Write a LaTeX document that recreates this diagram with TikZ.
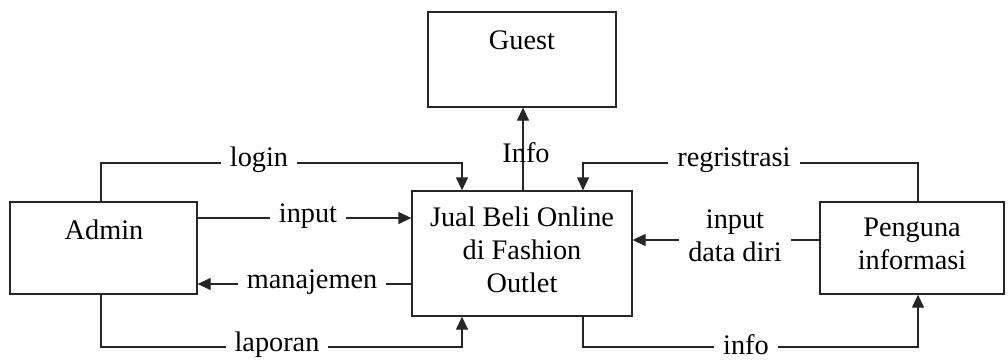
\documentclass[tikz,border=0pt]{standalone}
\usepackage{fontspec}
\setmainfont{Liberation Serif}
\usetikzlibrary{arrows.meta}
\begin{document}
\begin{tikzpicture}[x=1pt,y=-1pt,
  every node/.style={font=\fontsize{28.3}{33}\selectfont, inner sep=0pt},
  box/.style={draw=black!85, line width=1.3pt, rectangle},
  conn/.style={draw=black!85, line width=1.3pt},
  arr/.style={conn, -{Triangle[length=13pt,width=12pt]}},
  lbl/.style={fill=white, inner xsep=9pt, inner ysep=2pt, align=center}]
\useasboundingbox (0,0) rectangle (1008,361);
\fill[white] (0,0) rectangle (1008,361);
% boxes
\node[box, minimum width=187pt, minimum height=92pt] (admin) at (103.5,248) {};
\node[box, minimum width=220pt, minimum height=125pt] (center) at (522,253.5) {};
\node[box, minimum width=188pt, minimum height=95pt] (guest) at (522,59.5) {};
\node[box, minimum width=184pt, minimum height=92pt] (peng) at (912,248) {};
% box texts
\node (tadmin) at (104,230) {Admin};
\node (tguest) at (522,40) {Guest};
\node[align=center] (tcenter) at (522,250) {Jual Beli Online\\di Fashion\\Outlet};
\node[align=center] (tpeng) at (912,244) {Penguna\\informasi};
% corner coordinates
\coordinate (c1) at (101,163);
\coordinate (c2) at (462,163);
\coordinate (c3) at (101,347);
\coordinate (c4) at (462,347);
\coordinate (c5) at (918,163);
\coordinate (c6) at (583,163);
\coordinate (c7) at (583,347);
\coordinate (c8) at (918,347);
\coordinate (yin) at (0,218);
\coordinate (yman) at (0,284);
\coordinate (ydd) at (0,240);
\coordinate (xg) at (523,0);
% connectors
\draw[arr] (admin.north -| c1) -- (c1) -- (c2) -- (center.north -| c2);
\draw[arr] (admin.east |- yin) -- (center.west |- yin);
\draw[arr] (center.west |- yman) -- (admin.east |- yman);
\draw[arr] (admin.south -| c3) -- (c3) -- (c4) -- (center.south -| c4);
\draw[arr] (center.north -| xg) -- (guest.south -| xg);
\draw[arr] (peng.north -| c5) -- (c5) -- (c6) -- (center.north -| c6);
\draw[arr] (peng.west |- ydd) -- (center.east |- ydd);
\draw[arr] (center.south -| c7) -- (c7) -- (c8) -- (peng.south -| c8);
% labels
\node[lbl] (llogin) at (259,160) {login};
\node[lbl] (linput) at (308,216) {input};
\node[lbl] (lman) at (312,282) {manajemen};
\node[lbl] (llap) at (277,345) {laporan};
\node (linfo) at (526,153) {Info};
\node[lbl] (lreg) at (734,160) {regristrasi};
\node[lbl, inner ysep=0pt] (ldd) at (735,236) {input\\data diri};
\node[lbl] (linfo2) at (746,345) {info};
\end{tikzpicture}
\end{document}
